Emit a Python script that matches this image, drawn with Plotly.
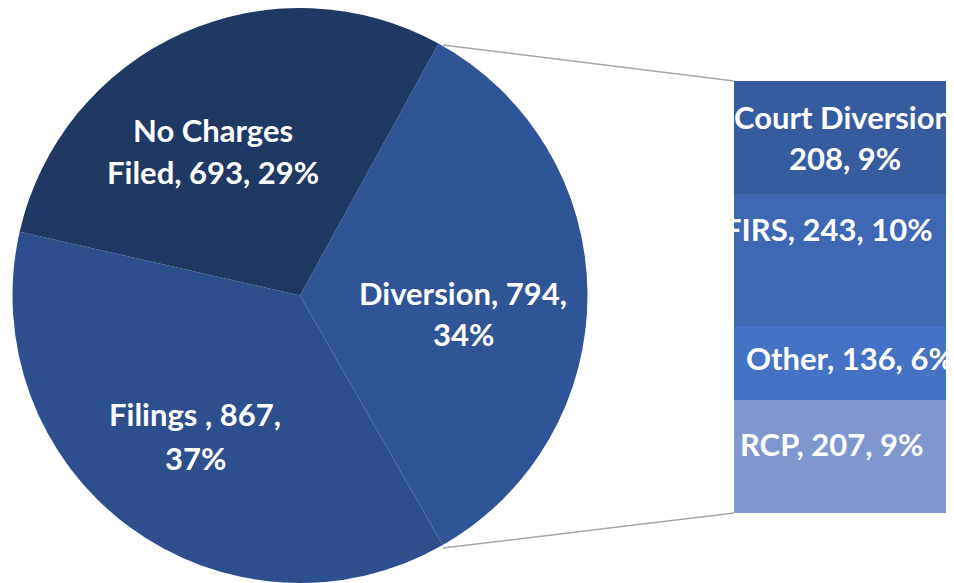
import plotly.graph_objects as go

# ---- data ----
pie_labels = ["Diversion", "Filings ", "No Charges Filed"]
pie_values = [794, 867, 693]
pie_colors = ["#2F5597", "#2E4F8E", "#203864"]

bar_labels = ["RCP", "Other", "FIRS", "Court Diversion"]   # bottom to top
bar_values = [207, 136, 243, 208]
bar_colors = ["#7F96CF", "#4472C4", "#3C68B4", "#365CA0"]

total = sum(pie_values)
def pct(v):
    return f"{round(100 * v / total)}%"

# page has an 8px body margin; work in page pixel coordinates
OFF = 8
W, H = 954 - OFF, 583 - OFF
def px(x): return (x - OFF) / W
def py(y): return 1 - (y - OFF) / H

fig = go.Figure()

fig.add_trace(go.Pie(
    labels=pie_labels, values=pie_values, sort=False, direction="clockwise",
    rotation=28.8, marker=dict(colors=pie_colors, line=dict(width=0)),
    textinfo="none", hoverinfo="label+value+percent", showlegend=False,
    domain=dict(x=[px(12), px(588)], y=[0, 1]),
))

for lab, val, col in zip(bar_labels, bar_values, bar_colors):
    fig.add_trace(go.Bar(
        x=[0], y=[val], name=lab, marker=dict(color=col, line=dict(width=0)),
        width=1, showlegend=False, hoverinfo="name+y",
    ))

fig.update_layout(
    barmode="stack", width=W, height=H,
    margin=dict(l=0, r=0, t=0, b=0),
    paper_bgcolor="white", plot_bgcolor="white",
    xaxis=dict(domain=[px(734), px(951)], range=[-0.5, 0.5], visible=False, fixedrange=True),
    yaxis=dict(domain=[py(513), py(80.7)], range=[0, sum(bar_values)], visible=False, fixedrange=True),
    font=dict(family="Lato", color="white"),
)

# connector lines
for (x0, y0, x1, y1) in [(443, 45, 734, 81), (443, 548, 734, 513)]:
    fig.add_shape(type="line", xref="paper", yref="paper",
                  x0=px(x0), y0=py(y0), x1=px(x1), y1=py(y1),
                  line=dict(color="#A6A6A6", width=1.5), layer="below")

pv = dict(zip(pie_labels, pie_values))
bv = dict(zip(bar_labels, bar_values))
label_lines = [
    # (text, x, y)
    ("No Charges", 213, 130),
    (f"Filed, {pv['No Charges Filed']}, {pct(pv['No Charges Filed'])}", 213, 172),
    (f"Diversion, {pv['Diversion']},", 463, 293),
    (pct(pv['Diversion']), 463, 334),
    (f"Filings , {pv['Filings ']},", 195, 414),
    (pct(pv['Filings ']), 195, 458),
    ("Court Diversion", 843, 117),
    (f"{bv['Court Diversion']}, {pct(bv['Court Diversion'])}", 845, 158),
    (f"FIRS, {bv['FIRS']}, {pct(bv['FIRS'])}", 828, 229),
    (f"Other, {bv['Other']}, {pct(bv['Other'])}", 850, 358),
    (f"RCP, {bv['RCP']}, {pct(bv['RCP'])}", 831, 444),
]
for t, x, y in label_lines:
    fig.add_annotation(text=f"<b>{t}</b>", x=px(x), y=py(y), xref="paper", yref="paper",
                       showarrow=False, xanchor="center", yanchor="middle",
                       font=dict(family="Lato", size=31, color="white"))

fig.write_html("out.html")
